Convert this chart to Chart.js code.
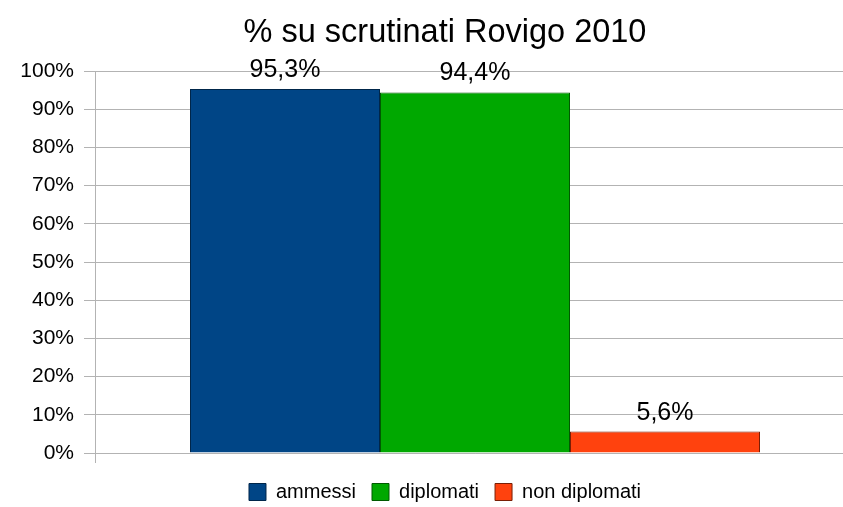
<!DOCTYPE html>
<html>
<head>
<meta charset="utf-8">
<script src="https://cdn.jsdelivr.net/npm/chart.js@4"></script>
<style>
  html, body { margin: 0; padding: 0; background: #fff; }
  #wrap { width: 843px; height: 507px; overflow: hidden; position: relative; }
  #wrap canvas { position: absolute; left: 0; top: 0; }
</style>
</head>
<body>
<div id="wrap"><canvas id="chart-scrutinati" width="890" height="520"></canvas></div>
<script>
const categories = [''];
const seriesNames = ['ammessi', 'diplomati', 'non diplomati'];
const ammessi = [95.3];
const diplomati = [94.4];
const nonDiplomati = [5.6];
const yTicks = [0, 10, 20, 30, 40, 50, 60, 70, 80, 90, 100];

const fontFamily = '"Liberation Sans", Arial, sans-serif';

// percent labels above each bar
const valueLabels = {
    id: 'valueLabels',
    afterDatasetsDraw(chart) {
        const ctx = chart.ctx;
        ctx.save();
        ctx.font = '25px ' + fontFamily;
        ctx.fillStyle = '#000';
        ctx.textAlign = 'center';
        ctx.textBaseline = 'alphabetic';
        chart.data.datasets.forEach((ds, i) => {
            chart.getDatasetMeta(i).data.forEach((bar, j) => {
                const txt = ds.data[j].toFixed(1).replace('.', ',') + '%';
                ctx.fillText(txt, bar.x, bar.y - 12);
            });
        });
        ctx.restore();
    }
};

const ctx = document.getElementById('chart-scrutinati').getContext('2d');
const myChart = new Chart(ctx, {
    type: 'bar',
    data: {
        labels: categories,
        datasets: [{
                label: seriesNames[0],
                data: ammessi,
                backgroundColor: '#004586',
                borderColor: '#00264a',
                borderWidth: 1
            }, {
                label: seriesNames[1],
                data: diplomati,
                backgroundColor: '#00a800',
                borderColor: '#005a00',
                borderWidth: 1
            }, {
                label: seriesNames[2],
                data: nonDiplomati,
                backgroundColor: '#ff420e',
                borderColor: '#7a1e05',
                borderWidth: 1
            }]
    },
    options: {
        responsive: false,
        animation: false,
        events: [],
        layout: {
            padding: { left: 0, right: 0, top: 0, bottom: 8 }
        },
        datasets: {
            bar: { categoryPercentage: 0.75, barPercentage: 1 }
        },
        plugins: {
            title: {
                display: true,
                text: '% su scrutinati Rovigo 2010',
                color: '#000',
                font: { family: fontFamily, size: 32.5, weight: 'normal' },
                padding: { top: 14, bottom: 18 }
            },
            legend: {
                position: 'bottom',
                labels: {
                    color: '#000',
                    font: { family: fontFamily, size: 20 },
                    boxWidth: 17,
                    boxHeight: 17,
                    padding: 16
                }
            },
            tooltip: { enabled: false }
        },
        scales: {
            x: {
                offset: true,
                afterFit: (scale) => {
                    scale.height = 13;
                },
                grid: {
                    display: true,
                    offset: true,
                    drawOnChartArea: false,
                    drawTicks: true,
                    tickLength: 10,
                    color: '#b3b3b3'
                },
                border: { display: true, color: '#b3b3b3' },
                ticks: { display: false }
            },
            y: {
                min: 0,
                max: 100,
                afterBuildTicks: (scale) => {
                    scale.ticks = yTicks.map(v => ({ value: v }));
                },
                afterFit: (scale) => {
                    scale.width = 95;
                },
                grid: {
                    color: '#b3b3b3',
                    tickLength: 11
                },
                border: { display: true, color: '#b3b3b3' },
                ticks: {
                    color: '#000',
                    padding: 10,
                    font: { family: fontFamily, size: 21 },
                    callback: (v) => v + '%'
                }
            },
            // empty right-hand axis, only reserves space beyond the window edge
            yRight: {
                type: 'linear',
                position: 'right',
                display: true,
                afterFit: (scale) => {
                    scale.width = 35;
                },
                grid: { display: false },
                border: { display: false },
                ticks: { display: false }
            }
        }
    },
    plugins: [valueLabels]
});
</script>
</body>
</html>
